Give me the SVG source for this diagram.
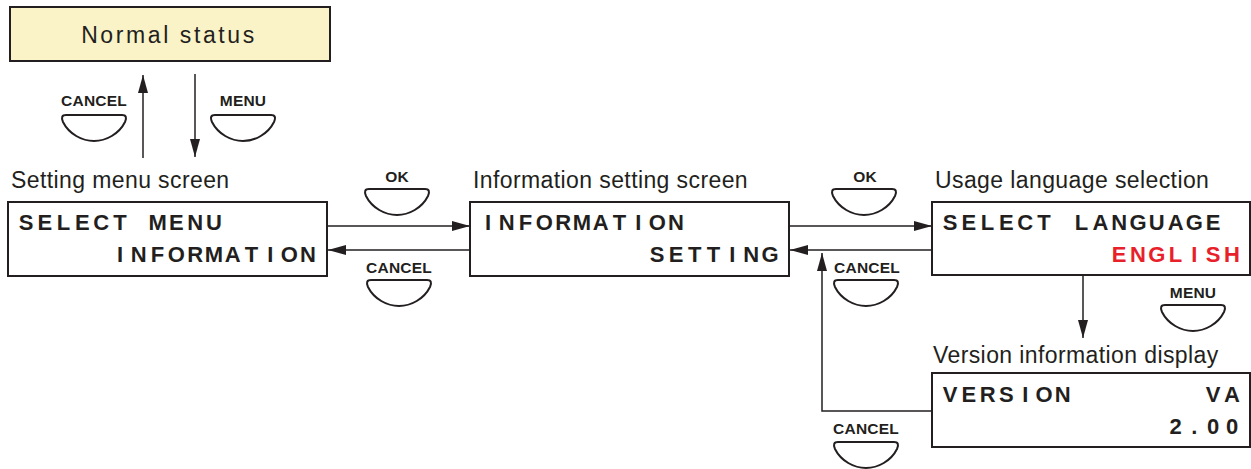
<svg xmlns="http://www.w3.org/2000/svg" xmlns:xlink="http://www.w3.org/1999/xlink" width="1251" height="469" viewBox="0 0 1251 469">
<style>
.box{fill:#fff;stroke:#231f20;stroke-width:2}
.title{font-family:"Liberation Sans",Arial,sans-serif;font-size:23px;fill:#231f20;letter-spacing:0.4px}
.lcd{font-family:"Liberation Sans",Arial,sans-serif;font-size:22px;font-weight:bold;fill:#231f20;text-anchor:middle}
.red{fill:#e8202a}
.key{font-family:"Liberation Sans",Arial,sans-serif;font-size:15.5px;font-weight:bold;fill:#231f20;text-anchor:middle;letter-spacing:0.2px}
.btn{fill:#fff;stroke:#231f20;stroke-width:2}
.conn{fill:none;stroke:#231f20;stroke-width:1.5}
</style>
<defs>
<marker id="ah" viewBox="0 0 18 10" refX="18" refY="5" markerUnits="userSpaceOnUse" markerWidth="18" markerHeight="10" orient="auto">
<path d="M0,0 L18,5 L0,10 Z" fill="#231f20"/>
</marker>
<path id="btn" d="M5,0 H61 Q67,0 64,7 C58,19 45,26 33,26 C21,26 8,19 2,7 Q-1,0 5,0 Z"/>
</defs>
<rect width="1251" height="469" fill="#fff"/>

<g id="connectors">
<path class="conn" d="M143,158 V75" marker-end="url(#ah)"/>
<path class="conn" d="M195,74 V157" marker-end="url(#ah)"/>
<path class="conn" d="M327,226 H470" marker-end="url(#ah)"/>
<path class="conn" d="M470,250 H328" marker-end="url(#ah)"/>
<path class="conn" d="M789,226 H932" marker-end="url(#ah)"/>
<path class="conn" d="M932,250 H790" marker-end="url(#ah)"/>
<path class="conn" d="M1083,276 V338" marker-end="url(#ah)"/>
<path class="conn" d="M932,411 H822 V253" marker-end="url(#ah)"/>
</g>

<g id="keys">
<text class="key" x="94" y="106">CANCEL</text>
<use xlink:href="#btn" class="btn" x="61" y="115"/>
<text class="key" x="243" y="106">MENU</text>
<use xlink:href="#btn" class="btn" x="210" y="115"/>
<text class="key" x="397" y="182">OK</text>
<use xlink:href="#btn" class="btn" x="364" y="189"/>
<text class="key" x="399" y="273">CANCEL</text>
<use xlink:href="#btn" class="btn" x="366" y="280"/>
<text class="key" x="865" y="182">OK</text>
<use xlink:href="#btn" class="btn" x="831" y="189"/>
<text class="key" x="867" y="273">CANCEL</text>
<use xlink:href="#btn" class="btn" x="833" y="280"/>
<text class="key" x="1193" y="298">MENU</text>
<use xlink:href="#btn" class="btn" x="1160" y="305"/>
<text class="key" x="866" y="434">CANCEL</text>
<use xlink:href="#btn" class="btn" x="833" y="442"/>
</g>

<g id="normal-status">
<rect x="10" y="7" width="320" height="54" fill="#fbf3c8" stroke="#231f20" stroke-width="2"/>
<text x="169" y="43" text-anchor="middle" style="font-family:'Liberation Sans',Arial,sans-serif;font-size:23px;fill:#231f20;letter-spacing:2.6px">Normal status</text>
</g>

<g id="setting-menu-screen">
<text class="title" x="11" y="188">Setting menu screen</text>
<rect class="box" x="8" y="202" width="319" height="74"/>
<text class="lcd" x="26 44.8 63.6 82.4 101.2 120 138.8 157.6 176.4 195.2 214" y="230">SELECT MENU</text>
<text class="lcd" x="120 138.8 157.6 176.4 195.2 214 232.8 251.6 270.4 289.2 308" y="262">INFORMATION</text>
</g>

<g id="information-setting-screen">
<text class="title" x="473" y="188">Information setting screen</text>
<rect class="box" x="470" y="202" width="319" height="74"/>
<text class="lcd" x="488 506.8 525.6 544.4 563.2 582 600.8 619.6 638.4 657.2 676" y="230">INFORMATION</text>
<text class="lcd" x="657.2 676 694.8 713.6 732.4 751.2 770" y="262">SETTING</text>
</g>

<g id="usage-language-selection">
<text class="title" x="935" y="188">Usage language selection</text>
<rect class="box" x="932" y="202" width="318" height="73"/>
<text class="lcd" x="950 968.8 987.6 1006.4 1025.2 1044 1062.8 1081.6 1100.4 1119.2 1138 1156.8 1175.6 1194.4 1213.2" y="230">SELECT LANGUAGE</text>
<text class="lcd red" x="1119.2 1138 1156.8 1175.6 1194.4 1213.2 1232" y="262">ENGLISH</text>
</g>

<g id="version-information-display">
<text class="title" x="933" y="363">Version information display</text>
<rect class="box" x="932" y="373" width="318" height="74"/>
<text class="lcd" x="950 968.8 987.6 1006.4 1025.2 1044 1062.8" y="402">VERSION</text>
<text class="lcd" x="1213.2 1232" y="402">VA</text>
<text class="lcd" x="1175.6 1194.4 1213.2 1232" y="434">2.00</text>
</g>
</svg>
